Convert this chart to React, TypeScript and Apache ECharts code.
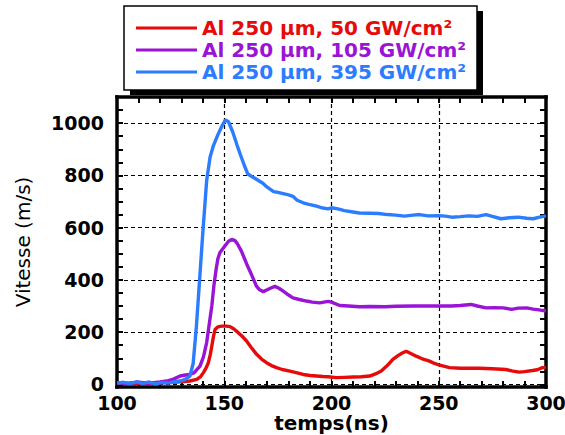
import React, { useEffect, useRef } from "react";
import * as echarts from "echarts";

// Rear-surface velocity of a 250 µm aluminium target for three laser intensities
const SERIES_NAMES = [
  "Al 250 µm, 50 GW/cm²",
  "Al 250 µm, 105 GW/cm²",
  "Al 250 µm, 395 GW/cm²",
];
const COLORS = ["#e60a0a", "#9a14d6", "#2b7cff"];

// 50 GW/cm²
const T_RED = [
  100, 110, 120, 126, 129.4, 134, 137.2, 139, 140.3, 141.5, 142.6, 143.5, 144.2, 145, 145.7, 147,
  148.8, 151, 152.7, 154.5, 156.5, 158.5, 160.4, 162.5, 165.1, 167.5, 169.7, 172, 174.4, 177,
  180.6, 184, 186.8, 190, 193, 196, 198.4, 202.3, 206, 210, 214, 217.8, 220.5, 223.2, 226, 228.6,
  231, 233, 234.8, 236.5, 239.5, 242, 245.7, 248, 250, 255, 260, 265, 268.9, 275, 281.3, 284,
  287.5, 290, 293.7, 296, 298.3, 300,
];
const V_RED = [
  5, 4, 6, 8, 10, 13, 19, 30, 45, 62, 83, 115, 147, 185, 210, 220,
  223, 223, 221, 212, 198, 183, 166, 142, 115, 96, 83, 72, 64, 57,
  51, 44, 38, 34, 32, 30, 29, 26, 27, 28, 29, 32, 40, 51, 72, 96,
  110, 120, 127, 120, 108, 99, 89, 80, 75, 64, 62, 62, 62, 60, 57, 52,
  47, 49, 53, 56, 64, 64,
];

// 105 GW/cm²
const T_PURPLE = [
  100, 105, 110, 115, 120, 124, 126.3, 129.4, 132, 134, 136, 138.7, 140.3, 141.8, 143, 144.2,
  145.2, 146.2, 147, 148, 150.3, 152, 153.5, 155, 156, 158, 159, 160.5, 162, 163.5, 165, 166.5,
  168.2, 170, 171.5, 173.6, 175.5, 177.5, 180, 182, 185, 188.3, 191, 194.5, 198.4, 200, 203.8,
  208, 213, 218, 225, 230, 238, 245, 250, 256, 260, 265, 268, 272, 276, 280, 284, 287, 291, 294,
  297.6, 300,
];
const V_PURPLE = [
  6, 4, 8, 5, 9, 14, 20, 32, 36, 38, 45, 70, 105, 160, 230, 300,
  380, 440, 480, 505, 530, 548, 555, 550, 540, 510, 490, 460, 433, 405, 376, 362,
  355, 362, 368, 375, 368, 357, 342, 331, 325, 319, 315, 312, 318, 315, 302,
  300, 297, 298, 297, 299, 300, 300, 300, 300, 302, 306, 300, 293, 294, 293, 287, 292, 293, 288,
  284, 282,
];

// 395 GW/cm²
const T_BLUE = [
  100, 103, 106, 109, 112, 115, 118, 121, 124, 127, 130, 132, 134, 135.5, 137, 138.5, 140,
  141.8, 143.4, 145, 147, 149, 150.5, 152, 154, 156, 157.5, 159.5, 161, 163, 165, 168, 170, 173,
  175, 177.5, 180, 182, 184, 186.8, 189, 193, 196, 198.4, 200, 203, 206, 210, 213, 218, 222, 226,
  230, 234, 238, 241, 245, 250, 253, 256, 260, 264, 268, 272, 275, 279, 283, 287, 291, 294, 297,
  300,
];
const V_BLUE = [
  5, 8, 3, 10, 4, 9, 2, 7, 5, 10, 14, 20, 32, 80, 220, 400, 580,
  780, 870, 915, 955, 990, 1012, 1005, 965, 915, 880, 835, 805, 795, 785, 770, 755, 738,
  735, 730, 725, 720, 705, 695, 690, 682, 675, 672, 676, 672, 665, 660, 656, 655, 654, 650,
  648, 644, 648, 650, 645, 646, 644, 640, 642, 645, 643, 650, 643, 634, 638, 640, 636, 634, 640,
  645,
];

// Axis ticks, labels and dotted grid spacing
const X_MIN = 100;
const X_MAX = 300;
const X_LABEL_STEP = 50;
const Y_MIN = -10;
const Y_MAX = 1100;
const Y_LABELS = [0, 200, 400, 600, 800, 1000];
const Y_TICKS = [0, 50, 100, 150, 200, 250, 300, 350, 400, 450, 500, 550, 600, 650, 700, 750, 800, 850, 900, 950, 1000, 1050, 1100];
const Y_GRID_STEP = 200;

const FONT = "DejaVu Sans";

// plot frame in pixels
const PLOT_LEFT = 117;
const PLOT_RIGHT = 19;
const PLOT_TOP = 97;
const PLOT_BOTTOM = 48;
const PLOT_HEIGHT = 435 - PLOT_TOP - PLOT_BOTTOM;

const pairs = (t: number[], v: number[]) => t.map((x, i) => [x, v[i]]);

export default function App() {
  const ref = useRef<HTMLDivElement>(null);

  useEffect(() => {
    if (!ref.current) return;
    document.body.style.margin = "0";
    const chart = echarts.init(ref.current, null, { renderer: "svg" });

    const frame = { show: true, onZero: false, lineStyle: { color: "#000", width: 3.5, cap: "square" } };
    const tick = { show: true, inside: true, length: 6, lineStyle: { color: "#000", width: 2 } };
    const tickLabel = {
      fontFamily: FONT,
      fontWeight: "bold",
      fontSize: 19,
      color: "#000",
      formatter: (v: number) => String(v),
    };
    const dotted = { color: "#000", width: 1.2, type: [4, 3] };

    const xCommon = {
      type: "value",
      min: X_MIN,
      max: X_MAX,
      interval: X_LABEL_STEP,
      axisLine: frame,
      axisTick: tick,
      minorTick: { show: true, splitNumber: 5, length: 6, lineStyle: { color: "#000", width: 2 } },
      splitLine: { show: false },
    };
    const yCommon = {
      type: "value",
      min: Y_MIN,
      max: Y_MAX,
      axisLine: frame,
      axisTick: { ...tick, customValues: Y_TICKS },
      splitLine: { show: false },
    };

    // second grid starting exactly at velocity 0, used only for the dotted grid lines
    const zeroOffset = (-Y_MIN / (Y_MAX - Y_MIN)) * PLOT_HEIGHT;

    const curves = [
      [T_RED, V_RED],
      [T_PURPLE, V_PURPLE],
      [T_BLUE, V_BLUE],
    ].map(([t, v], i) => ({
      name: SERIES_NAMES[i],
      type: "line",
      data: pairs(t, v),
      showSymbol: false,
      z: 3,
      color: COLORS[i],
      lineStyle: { color: COLORS[i], width: 3.4 },
    }));

    chart.setOption({
      animation: false,
      backgroundColor: "#fff",
      grid: [
        { left: PLOT_LEFT, right: PLOT_RIGHT, top: PLOT_TOP, bottom: PLOT_BOTTOM, outerBoundsMode: "none" },
        {
          left: PLOT_LEFT,
          right: PLOT_RIGHT,
          top: PLOT_TOP,
          bottom: PLOT_BOTTOM + zeroOffset,
          outerBoundsMode: "none",
        },
      ],
      xAxis: [
        {
          ...xCommon,
          position: "bottom",
          axisLabel: { ...tickLabel, margin: 6 },
          name: "temps(ns)",
          nameLocation: "middle",
          nameGap: 26,
          nameMoveOverlap: false,
          nameTextStyle: { fontFamily: FONT, fontWeight: "bold", fontSize: 20, lineHeight: 19, color: "#000" },
        },
        { ...xCommon, position: "top", axisLabel: { show: false } },
        {
          type: "value",
          gridIndex: 1,
          min: X_MIN,
          max: X_MAX,
          interval: X_LABEL_STEP,
          axisLine: { show: false },
          axisTick: { show: false },
          axisLabel: { show: false },
          splitLine: { show: true, showMinLine: false, showMaxLine: false, lineStyle: dotted },
        },
      ],
      yAxis: [
        {
          ...yCommon,
          position: "left",
          axisLabel: { ...tickLabel, margin: 13, lineHeight: 15, customValues: Y_LABELS },
          name: "Vitesse (m/s)",
          nameLocation: "middle",
          nameGap: 84,
          nameMoveOverlap: false,
          nameTextStyle: { fontFamily: FONT, fontSize: 20, color: "#000" },
        },
        { ...yCommon, position: "right", axisLabel: { show: false } },
        {
          type: "value",
          gridIndex: 1,
          min: 0,
          max: Y_MAX,
          interval: Y_GRID_STEP,
          axisLine: { show: false },
          axisTick: { show: false },
          axisLabel: { show: false },
          splitLine: { show: true, showMinLine: true, showMaxLine: false, lineStyle: dotted },
        },
      ],
      legend: {
        orient: "vertical",
        left: 136,
        top: 17,
        padding: 0,
        itemGap: 0,
        itemWidth: 61,
        itemHeight: 3,
        icon: "rect",
        backgroundColor: "transparent",
        textStyle: { fontFamily: FONT, fontWeight: "bold", fontSize: 20, lineHeight: 22 },
        data: SERIES_NAMES.map((n, i) => ({ name: n, textStyle: { color: COLORS[i] } })),
      },
      graphic: [
        { type: "rect", z: 0, shape: { x: 130, y: 11, width: 353, height: 84 }, style: { fill: "#000" } },
        {
          type: "rect",
          z: 1,
          shape: { x: 124, y: 6, width: 353, height: 84 },
          style: { fill: "#fff", stroke: "#000", lineWidth: 1.5 },
        },
      ],
      series: curves,
    });

    return () => chart.dispose();
  }, []);

  return <div ref={ref} style={{ width: 565, height: 435 }} />;
}
